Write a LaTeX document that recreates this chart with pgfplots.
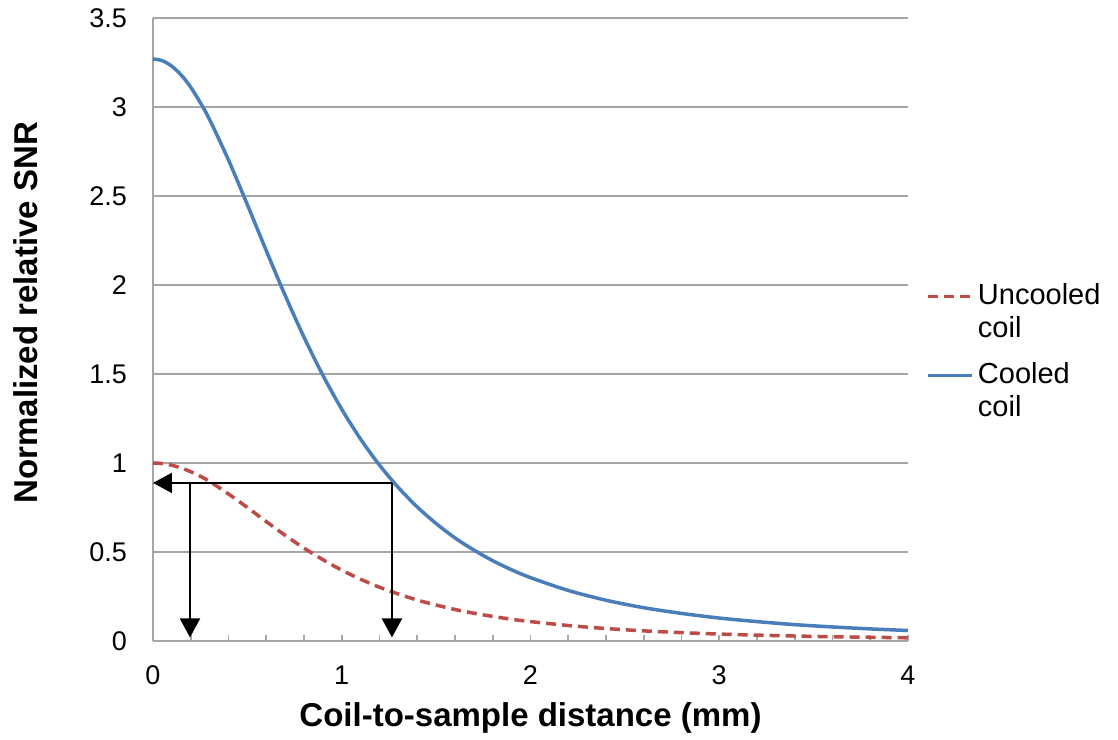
\documentclass[border=0pt]{standalone}
\usepackage{fontspec}
\setmainfont{Liberation Sans}
\usepackage{pgfplots}
\pgfplotsset{compat=1.18}
\usetikzlibrary{arrows.meta}
\definecolor{cblue}{HTML}{4A7EBB}
\definecolor{cred}{HTML}{BE4B48}
\definecolor{gridgray}{HTML}{A6A6A6}
\begin{document}
\begin{tikzpicture}
\begin{axis}[
  scale only axis, width=377.5pt, height=311.5pt,
  xmin=0, xmax=4, ymin=0, ymax=3.5,
  xtick={0,1,2,3,4}, minor x tick num=4,
  ytick={0,0.5,1,1.5,2,2.5,3,3.5},
  yticklabels={0,0.5,1,1.5,2,2.5,3,3.5},
  ymajorgrids, major grid style={gridgray, line width=1pt},
  axis x line=bottom, axis y line=left,
  axis line style={-, draw=gridgray, line width=1pt},
  tick align=inside, major tick length=3pt, minor tick length=3pt,
  x tick style={draw=gridgray, line width=0.8pt},
  y tick style={draw=none},
  tick label style={font=\fontsize{13.5}{15}\selectfont},
  /pgf/number format/assume math mode=true,
  yticklabel style={xshift=-9.5pt},
  xticklabel style={yshift=-9pt},
  xlabel={Coil-to-sample distance (mm)},
  ylabel={Normalized relative SNR},
  label style={font=\fontsize{16.5}{18}\selectfont\bfseries},
  x label style={at={(axis description cs:0.5,-0.138)}, anchor=base},
  y label style={at={(axis description cs:-0.1536,0.527)}, anchor=base},
  legend style={at={(axis description cs:1.016,0.464)}, anchor=west, draw=none, fill=none,
    font=\fontsize{14.5}{16.5}\selectfont, cells={align=left}, row sep=7pt},
  legend cell align=left,
  legend image code/.code={\draw[#1] (0pt,8pt) -- (22pt,8pt);},
  clip=false,
]
\addplot[cred, line width=1.75pt, dash pattern=on 5pt off 3pt, smooth] coordinates {
(0,1.000) (0.05,0.997) (0.1,0.987) (0.15,0.972) (0.2,0.951) (0.25,0.926) (0.3,0.896) (0.4,0.826) (0.5,0.750)
(0.6,0.671) (0.7,0.594) (0.8,0.522) (0.9,0.457) (1.0,0.398) (1.1,0.347)
(1.2,0.302) (1.3,0.264) (1.4,0.230) (1.5,0.202) (1.6,0.177) (1.7,0.156)
(1.8,0.138) (1.9,0.122) (2.0,0.109) (2.2,0.087) (2.4,0.070) (2.6,0.057)
(2.8,0.047) (3.0,0.039) (3.2,0.033) (3.4,0.028) (3.6,0.024) (3.8,0.021)
(4.0,0.018)};
\addlegendentry{Uncooled\\coil}
\addplot[cblue, line width=1.75pt, smooth] coordinates {
(0,3.270) (0.05,3.260) (0.1,3.229) (0.15,3.179) (0.2,3.111) (0.25,3.026) (0.3,2.929) (0.4,2.702) (0.5,2.451)
(0.6,2.193) (0.7,1.942) (0.8,1.707) (0.9,1.493) (1.0,1.302) (1.1,1.134)
(1.2,0.988) (1.3,0.862) (1.4,0.753) (1.5,0.660) (1.6,0.579) (1.7,0.511)
(1.8,0.451) (1.9,0.400) (2.0,0.356) (2.2,0.284) (2.4,0.229) (2.6,0.187)
(2.8,0.155) (3.0,0.129) (3.2,0.109) (3.4,0.092) (3.6,0.079) (3.8,0.068)
(4.0,0.059)};
\addlegendentry{Cooled\\coil}
\addplot[black, line width=1pt, -{Triangle[length=9.5pt, width=10pt]}, forget plot] coordinates {(1.266,0.888) (0,0.888)};
\addplot[black, line width=1pt, -{Triangle[length=9.5pt, width=10pt]}, forget plot] coordinates {(0.196,0.888) (0.196,0.02)};
\addplot[black, line width=1pt, -{Triangle[length=9.5pt, width=10pt]}, forget plot] coordinates {(1.266,0.888) (1.266,0.02)};
\coordinate (ll) at (rel axis cs:0,0);
\coordinate (ur) at (rel axis cs:1,1);
\end{axis}
\pgfresetboundingbox
\path[use as bounding box] ([xshift=-76.5pt,yshift=-49pt]ll) rectangle ([xshift=105pt,yshift=9pt]ur);
\end{tikzpicture}
\end{document}
